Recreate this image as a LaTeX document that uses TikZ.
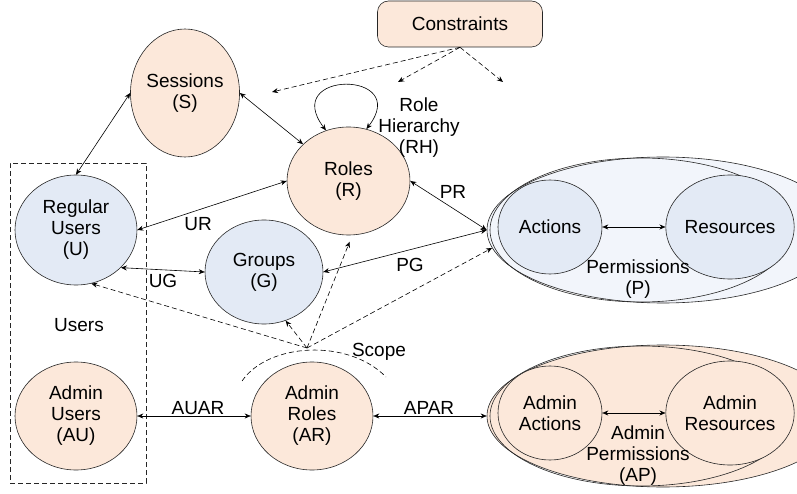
\documentclass[tikz,border=0pt]{standalone}
\usepackage{fontspec}
\setmainfont{Liberation Sans}
\usetikzlibrary{shapes.geometric,arrows.meta}
\definecolor{peach}{HTML}{FCE8DA}
\definecolor{lblue}{HTML}{E3EAF5}
\definecolor{pblue}{HTML}{F2F5FB}
\begin{document}
\begin{tikzpicture}[x=1pt,y=-1pt,
  every node/.style={font=\fontsize{19}{21}\selectfont, inner sep=0pt},
  ell/.style={ellipse, draw=black!85, line width=0.6pt, align=center, inner sep=0pt},
  pe/.style={ell, fill=peach},
  bl/.style={ell, fill=lblue},
  >={Stealth[length=6pt,width=5pt]},
  conn/.style={line width=0.6pt, <->},
  dconn/.style={line width=0.6pt, ->, dash pattern=on 5pt off 3pt},
  dline/.style={line width=0.6pt, dash pattern=on 5pt off 3pt},
  txt/.style={align=center}]
\useasboundingbox (0,0) rectangle (797,494);
\clip (0,0) rectangle (797,494);

% users box
\node[draw=black!85, line width=0.6pt, dash pattern=on 5pt off 3pt, minimum width=136pt, minimum height=320pt] (UB) at (78,323) {};
\node[txt] (ulbl) at (79,325) {Users};

% main nodes
\node[draw=black!85, line width=0.6pt, fill=peach, rounded corners=11pt, minimum width=165pt, minimum height=46pt] (C) at (460,24) {Constraints};
\node[pe, minimum width=94pt, minimum height=128pt] (S) at (185,93) {Sessions\\(S)};
\node[pe, minimum width=123pt, minimum height=108pt] (R) at (348.5,181) {Roles\\(R)};
\node[bl, minimum width=122pt, minimum height=110pt] (U) at (76,230) {Regular\\Users\\(U)};
\node[bl, minimum width=118pt, minimum height=104pt] (G) at (264,272) {Groups\\(G)};
\node[pe, minimum width=122pt, minimum height=108pt] (AU) at (76,416) {Admin\\Users\\(AU)};
\node[pe, minimum width=122pt, minimum height=108pt] (AR) at (312,416) {Admin\\Roles\\(AR)};

% permissions
\node[ell, fill=pblue, minimum width=352pt, minimum height=146pt] (P) at (663,230) {};
\node[ell, minimum width=302pt, minimum height=144pt] (Pin) at (641,230) {};
\node[bl, minimum width=104pt, minimum height=94pt] (A) at (550,227) {Actions};
\node[bl, minimum width=118pt, minimum height=104pt] (Res) at (730,227) {Resources};
\node[txt] (Plbl) at (638,279) {Permissions\\(P)};

% admin permissions
\node[ell, fill=peach, minimum width=352pt, minimum height=142pt] (AP) at (663,416) {};
\node[ell, minimum width=302pt, minimum height=140pt] (APin) at (641,416) {};
\node[pe, minimum width=104pt, minimum height=94pt] (AA) at (550,413) {Admin\\Actions};
\node[pe, minimum width=118pt, minimum height=104pt] (ARs) at (730,413) {Admin\\Resources};
\node[txt] (APlbl) at (638,456) {Admin\\Permissions\\(AP)};

\node[txt] (RH) at (419,128) {Role\\Hierarchy\\(RH)};

% solid connectors
\draw[conn] (U.north) -- (S.west);
\draw[conn] (S.east) -- (R.141);
\draw[conn] (U.east) -- (R.west);
\draw[conn] (U.-40) -- (G.west);
\draw[conn] (R.east) -- (P.west);
\draw[conn] (G.east) -- (P.west);
\draw[conn] (A.east) -- (Res.west);
\draw[conn] (AU.east) -- (AR.west);
\draw[conn] (AR.east) -- (AP.west);
\draw[conn] (AA.east) -- (ARs.west);
\draw[conn] (R.114) .. controls (280,70) and (412,70) .. (R.71);

% connector labels
\node (lUR) at (198,224) {UR};
\node (lUG) at (163,281) {UG};
\node (lPG) at (410,265) {PG};
\node (lPR) at (453,192) {PR};
\node (lAUAR) at (198,408) {AUAR};
\node (lAPAR) at (429,408) {APAR};

% constraints
\coordinate (c1) at (272,92);
\coordinate (c2) at (398,82);
\coordinate (c3) at (503,82);
\draw[dconn] (C.south) -- (c1);
\draw[dconn] (C.south) -- (c2);
\draw[dconn] (C.south) -- (c3);

% scope
\coordinate (sc) at (307,348);
\draw[dconn] (sc) -- (U.-74);
\draw[dconn] (sc) -- (G.-66);
\draw[dconn, shorten >=7pt] (sc) -- (R.-86);
\draw[dconn] (sc) -- (P.186);
\draw[dline] (242,381) .. controls (268,343) and (348,338) .. (386,377);
\node (lscope) at (379,352) {Scope};
\end{tikzpicture}
\end{document}
